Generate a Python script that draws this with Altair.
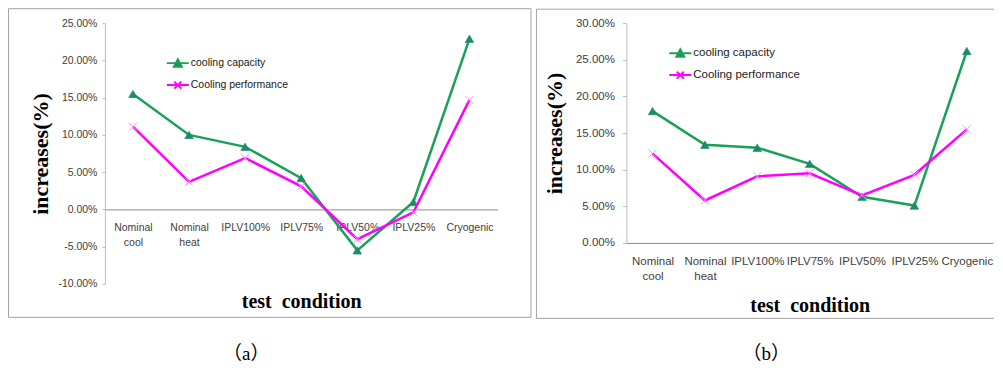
import altair as alt
import pandas as pd

categories = ["Nominal cool", "Nominal heat", "IPLV100%", "IPLV75%", "IPLV50%", "IPLV25%", "Cryogenic"]
series_names = ["cooling capacity", "Cooling performance"]

a_capacity = [0.155, 0.100, 0.084, 0.042, -0.055, 0.010, 0.229]
a_performance = [0.111, 0.037, 0.069, 0.031, -0.040, -0.004, 0.147]
b_capacity = [0.180, 0.134, 0.130, 0.108, 0.063, 0.051, 0.262]
b_performance = [0.122, 0.058, 0.091, 0.095, 0.065, 0.093, 0.155]

a_ticks = [-0.10, -0.05, 0.0, 0.05, 0.10, 0.15, 0.20, 0.25]
b_ticks = [0.0, 0.05, 0.10, 0.15, 0.20, 0.25, 0.30]

y_title = "increases(%)"
x_title = "test\u00a0 condition"
captions = ["（a）", "（b）"]

GREEN = "#1ba157"
TRI_FILL = "#17905a"
MAGENTA = "#ff00ff"
CROSS = "#ff8cff"
FRAME = "#a3a3a3"

TRI_LEG = "M-1,0L1,0M-0.36,0.32L0,-0.34L0.36,0.32Z"
CROSS_LEG = "M-1,0L1,0M-0.32,-0.32L0.32,0.32M-0.32,0.32L0.32,-0.32"
CROSS_PT = "M-1,-1L1,1M-1,1L1,-1"


def make_df(cap, perf):
    rows = []
    for c, v in zip(categories, cap):
        rows.append({"category": c, "series": series_names[0], "value": v})
    for c, v in zip(categories, perf):
        rows.append({"category": c, "series": series_names[1], "value": v})
    return pd.DataFrame(rows)


def panel(cap, perf, ticks, w, h, xoffset, lab_size, tick_size, lab_pad, ytitle_x,
          xtitle_y, leg_x, leg_y, leg_size, frame_layer, caption, cap_x, cap_y):
    df = make_df(cap, perf)
    lo, hi = ticks[0], ticks[-1]
    x_enc = alt.X(
        "category:N", sort=categories,
        scale=alt.Scale(type="point", padding=0.5),
        axis=alt.Axis(
            title=x_title, titleFont="Liberation Serif", titleFontSize=20,
            titleFontWeight="bold", titleColor="#000", titleX=w / 2, titleY=xtitle_y,
            titleAlign="center", titleBaseline="alphabetic",
            labelExpr="split(datum.label, ' ')", labelFont="Liberation Sans",
            labelFontSize=lab_size, labelColor="#404040", labelLineHeight=15,
            labelPadding=13, labelOverlap=False, labelAngle=0,
            ticks=False, domainColor="#8c8c8c", domainWidth=1, offset=xoffset,
        ),
    )
    y_enc = alt.Y(
        "value:Q",
        scale=alt.Scale(domain=[lo, hi], nice=False, zero=False),
        axis=alt.Axis(
            values=ticks, format=".2%", labelExpr="replace(datum.label, '\u2212', '-')",
            title=y_title, titleFont="Liberation Serif", titleFontSize=22,
            titleFontWeight="bold", titleColor="#000", titleX=ytitle_x, titleY=h / 2,
            titleAngle=270, titleAlign="center", titleBaseline="middle",
            labelFont="Liberation Sans", labelFontSize=lab_size, labelColor="#404040",
            labelPadding=lab_pad, tickSize=tick_size, tickColor="#bdbdbd",
            domainColor="#bdbdbd", grid=False,
        ),
    )
    base = alt.Chart(df)
    line_cap = base.transform_filter(alt.datum.series == series_names[0]).mark_line(
        color=GREEN, strokeWidth=2.5).encode(x=x_enc, y=y_enc)
    pt_cap = base.transform_filter(alt.datum.series == series_names[0]).mark_point(
        shape="triangle-up", filled=True, fill=TRI_FILL, stroke="#2b7f8f",
        strokeWidth=0.6, size=75, opacity=1).encode(x=x_enc, y=y_enc)
    line_perf = base.transform_filter(alt.datum.series == series_names[1]).mark_line(
        color=MAGENTA, strokeWidth=2.5).encode(x=x_enc, y=y_enc)
    pt_perf = base.transform_filter(alt.datum.series == series_names[1]).mark_point(
        shape=CROSS_PT, filled=False, stroke=CROSS, strokeWidth=1, size=64,
        opacity=1).encode(x=x_enc, y=y_enc)

    leg = alt.Legend(
        title=None, orient="none", legendX=leg_x, legendY=leg_y, direction="vertical",
        symbolSize=484, symbolStrokeWidth=2, symbolFillColor="transparent",
        symbolOpacity=1, labelFont="Liberation Sans", labelFontSize=leg_size,
        labelColor="#1a1a1a", rowPadding=2, labelOffset=1, padding=0,
    )
    legend_layer = base.transform_filter("false").mark_point(filled=False).encode(
        color=alt.Color("series:N", scale=alt.Scale(domain=series_names, range=[GREEN, MAGENTA]), legend=leg),
        fill=alt.Fill("series:N", scale=alt.Scale(domain=series_names, range=[TRI_FILL, "transparent"]), legend=leg),
        shape=alt.Shape("series:N", scale=alt.Scale(domain=series_names, range=[TRI_LEG, CROSS_LEG]), legend=leg),
    )
    cap_layer = alt.Chart(alt.Data(values=[{"t": caption}])).mark_text(
        font="Liberation Serif, Noto Sans CJK SC", fontSize=19, color="#000", align="center",
        baseline="middle").encode(text="t:N", x=alt.value(cap_x), y=alt.value(cap_y))

    return alt.layer(*frame_layer, line_cap, pt_cap, line_perf, pt_perf,
                     legend_layer, cap_layer).properties(width=w, height=h)


one = alt.Data(values=[{"k": 1}])

frame_a = [alt.Chart(one).mark_rect(fill="transparent", stroke=FRAME, strokeWidth=1).encode(
    x=alt.value(-96.5), x2=alt.value(426.5), y=alt.value(-14.5), y2=alt.value(294.5))]

frame_b = [
    alt.Chart(one).mark_rule(color=FRAME, strokeWidth=1).encode(
        x=alt.value(-90), x2=alt.value(368), y=alt.value(-14), y2=alt.value(-14)),
    alt.Chart(one).mark_rule(color=FRAME, strokeWidth=1).encode(
        x=alt.value(-90), x2=alt.value(-90), y=alt.value(-14), y2=alt.value(295.5)),
    alt.Chart(one).mark_rule(color=FRAME, strokeWidth=1).encode(
        x=alt.value(-90), x2=alt.value(368), y=alt.value(295.5), y2=alt.value(295.5)),
]

ha, hb = 261, 220
pa = panel(a_capacity, a_performance, a_ticks, 393, ha, -ha * 10 / 35, 10.5, 3, 5, -64.5,
           98, 61, 28, 10.5, frame_a, captions[0], 141.5, 331)
pb = panel(b_capacity, b_performance, b_ticks, 367, hb, 0, 11.5, 4, 8, -71.5,
           69, 42, 18, 11.5, frame_b, captions[1], 140, 331)

chart = (
    alt.hconcat(pa, pb, spacing=4)
    .resolve_scale(color="independent", fill="independent", shape="independent")
    .resolve_legend(color="independent", fill="independent", shape="independent")
    .properties(padding=0)
    .configure_view(stroke=None)
)

chart.save("out.html", embed_options={"renderer": "svg", "actions": False})
